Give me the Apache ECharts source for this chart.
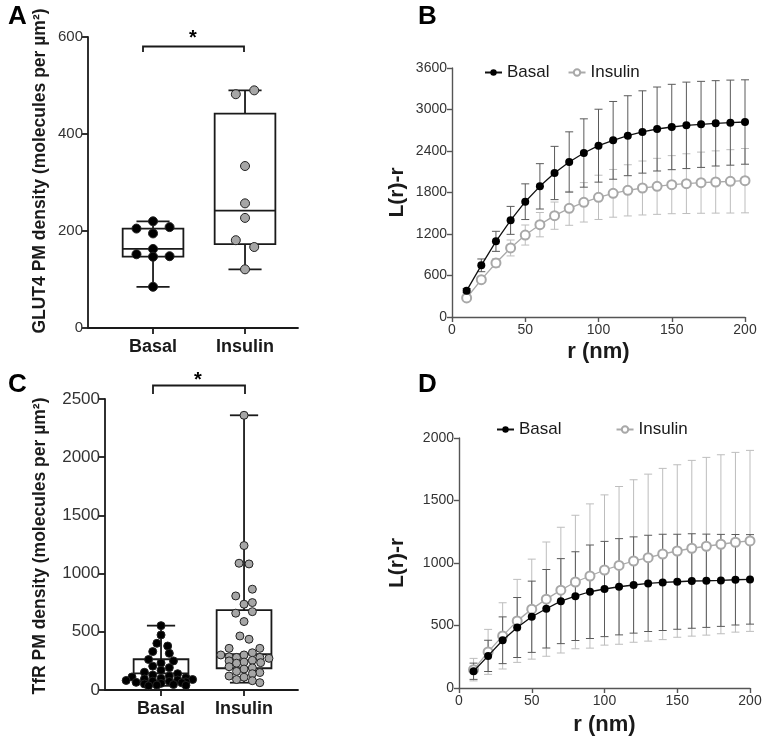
<!DOCTYPE html>
<html><head><meta charset="utf-8">
<script src="https://cdn.jsdelivr.net/npm/echarts@6/dist/echarts.min.js"></script>
<style>html,body{margin:0;padding:0;background:#fff}#c{width:767px;height:741px}</style>
</head><body><div id="c"></div>
<script>
const groups = ['Basal', 'Insulin'];
const titleA = 'GLUT4 PM density (molecules per µm²)';
const titleC = 'TfR PM density (molecules per µm²)';

// Panel A: GLUT4 PM density
const aBasalValues = [220, 208, 205, 195, 163, 152, 148, 147, 85];
const aBasalJitter = [0, 0.18, -0.18, 0, 0, -0.18, 0.18, 0, 0];
const aInsulinValues = [490, 482, 334, 257, 227, 181, 167, 121];
const aInsulinJitter = [0.1, -0.1, 0, 0, 0, -0.1, 0.1, 0];
// [min, q1, median, q3, max]
const aBasalBox = [85, 147, 163, 205, 220];
const aInsulinBox = [121, 173, 242, 442, 490];

// Panel C: TfR PM density
const cBasalValues = [553,473,401,378,330,315,262,250,232,205,192,170,152,140,128,120,112,105,100,95,90,86,82,76,74,70,66,62,57,52,47,42,40,36];
const cBasalJitter = [0,0,-0.05,0.08,-0.1,0.1,-0.15,0.15,0,-0.1,0.1,0,-0.2,0.2,-0.1,0.1,-0.35,0.3,0,-0.2,0.38,0.2,-0.42,-0.1,0.1,0.3,-0.3,0.25,0,-0.2,0.15,-0.05,0.3,-0.15];
const cInsulinValues = [2360,1241,1089,1083,866,808,751,737,673,660,588,464,436,358,358,320,301,301,285,280,280,272,250,240,255,230,235,200,190,180,160,150,140,120,110,90,80,63];
const cInsulinJitter = [0,0,-0.06,0.06,0.1,-0.1,0.1,0,0.1,-0.1,0,-0.05,0.06,-0.18,0.19,0.1,-0.28,0,-0.18,-0.09,0.19,0.3,-0.18,0,0.1,-0.09,0.2,-0.18,0.1,0,-0.09,0.19,0.1,-0.18,0,-0.09,0.1,0.19];
const cBasalBox = [36, 75, 143, 264, 553];
const cInsulinBox = [63, 187, 307, 686, 2360];

// Panels B & D: L(r)-r
const rValues = [10,20,30,40,50,60,70,80,90,100,110,120,130,140,150,160,170,180,190,200];
const bBasalMean = [381,747,1094,1397,1667,1889,2082,2241,2371,2477,2554,2621,2675,2718,2747,2771,2785,2800,2810,2819];
const bBasalSD   = [30,92,145,202,258,328,385,436,494,527,562,578,595,607,617,625,622,617,615,610];
const bInsulinMean = [275,540,781,998,1185,1335,1465,1571,1658,1730,1788,1831,1865,1889,1913,1928,1942,1952,1961,1971];
const bInsulinSD   = [20,40,60,115,145,176,197,245,285,320,345,370,390,405,420,432,442,450,458,465];
const dBasalMean = [134,257,382,484,570,634,695,735,770,792,810,824,837,845,850,856,858,861,866,869];
const dBasalSD   = [65,125,187,240,285,314,340,355,374,381,385,385,385,385,380,378,373,368,362,358];
const dInsulinMean = [147,289,417,537,631,711,783,848,896,944,981,1016,1043,1072,1096,1118,1134,1150,1166,1177];
const dInsulinSD   = [90,180,265,332,400,457,503,534,577,601,631,650,668,685,690,703,711,716,719,724];

const FONT = "'Liberation Sans', Arial, sans-serif";
const plain = v => String(v);

function boxRender(halfW, capW) {
  return function (params, api) {
    const x = api.value(0);
    const p = [1,2,3,4,5].map(i => api.coord([x, api.value(i)]));
    const cx = p[0][0];
    const hw = api.size([halfW, 0])[0];
    const cw = api.size([capW, 0])[0];
    const st = { stroke: '#1a1a1a', lineWidth: 1.8, fill: null };
    return { type: 'group', children: [
      { type: 'line', shape: { x1: cx, y1: p[0][1], x2: cx, y2: p[1][1] }, style: st },
      { type: 'line', shape: { x1: cx, y1: p[3][1], x2: cx, y2: p[4][1] }, style: st },
      { type: 'line', shape: { x1: cx - cw, y1: p[0][1], x2: cx + cw, y2: p[0][1] }, style: st },
      { type: 'line', shape: { x1: cx - cw, y1: p[4][1], x2: cx + cw, y2: p[4][1] }, style: st },
      { type: 'rect', shape: { x: cx - hw, y: p[3][1], width: 2 * hw, height: p[1][1] - p[3][1] }, style: { stroke: '#1a1a1a', lineWidth: 1.8, fill: 'rgba(255,255,255,0)' } },
      { type: 'line', shape: { x1: cx - hw, y1: p[2][1], x2: cx + hw, y2: p[2][1] }, style: st }
    ]};
  };
}
function errRender(color) {
  return function (params, api) {
    const r = api.value(0), m = api.value(1), s = api.value(2);
    const t = api.coord([r, m + s]), b = api.coord([r, m - s]);
    const cw = 4;
    const st = { stroke: color, lineWidth: 1 };
    return { type: 'group', children: [
      { type: 'line', shape: { x1: t[0], y1: t[1], x2: b[0], y2: b[1] }, style: st },
      { type: 'line', shape: { x1: t[0] - cw, y1: t[1], x2: t[0] + cw, y2: t[1] }, style: st },
      { type: 'line', shape: { x1: b[0] - cw, y1: b[1], x2: b[0] + cw, y2: b[1] }, style: st }
    ]};
  };
}
const pts = (vals, jit, g) => vals.map((v, i) => [g + jit[i], v]);
const boxData = (g, box) => [[g].concat(box)];
const triple = (m, s) => rValues.map((r, i) => [r, m[i], s[i]]);
const pairs = m => rValues.map((r, i) => [r, m[i]]);

function catX(idx, min, max, fs) {
  return { type: 'value', gridIndex: idx, min: min, max: max,
    axisLine: { lineStyle: { color: '#1a1a1a', width: 1.8 } },
    axisTick: { customValues: [1, 2], length: 6, lineStyle: { color: '#1a1a1a', width: 1.8 } },
    axisLabel: { customValues: [1, 2], formatter: v => groups[Math.round(v) - 1], fontFamily: FONT, fontWeight: 'bold', fontSize: fs, color: '#1a1a1a', margin: 10 },
    splitLine: { show: false } };
}
function valY(idx, max, interval, fs) {
  return { type: 'value', gridIndex: idx, min: 0, max: max, interval: interval,
    axisLine: { show: true, lineStyle: { color: '#1a1a1a', width: 1.8 } },
    axisTick: { show: true, length: 6, lineStyle: { color: '#1a1a1a', width: 1.8 } },
    axisLabel: { formatter: plain, fontFamily: FONT, fontSize: fs, color: '#333', margin: 5 },
    splitLine: { show: false } };
}
function rX(idx, gap) {
  return { type: 'value', gridIndex: idx, min: 0, max: 200, interval: 50,
    name: 'r (nm)', nameLocation: 'middle', nameGap: gap,
    nameTextStyle: { fontFamily: FONT, fontWeight: 'bold', fontSize: 22, color: '#1a1a1a' },
    axisLine: { lineStyle: { color: '#555', width: 1.4 } },
    axisTick: { length: 5, lineStyle: { color: '#555', width: 1.4 } },
    axisLabel: { formatter: plain, fontFamily: FONT, fontSize: 14, color: '#333', margin: 6 },
    splitLine: { show: false } };
}
function lY(idx, max, interval, gap) {
  return { type: 'value', gridIndex: idx, min: 0, max: max, interval: interval,
    name: 'L(r)-r', nameLocation: 'middle', nameGap: gap,
    nameTextStyle: { fontFamily: FONT, fontWeight: 'bold', fontSize: 21, color: '#1a1a1a' },
    axisLine: { show: true, lineStyle: { color: '#555', width: 1.4 } },
    axisTick: { show: true, length: 5, lineStyle: { color: '#555', width: 1.4 } },
    axisLabel: { formatter: plain, fontFamily: FONT, fontSize: 14, color: '#333', margin: 5 },
    splitLine: { show: false } };
}
function basalLine(xi, yi, data) {
  return { type: 'line', name: 'Basal', xAxisIndex: xi, yAxisIndex: yi, data: data, symbol: 'circle', symbolSize: 8,
    itemStyle: { color: '#000' }, lineStyle: { color: '#111', width: 1.3 }, z: 5, animation: false };
}
function insulinLine(xi, yi, data) {
  return { type: 'line', name: 'Insulin', xAxisIndex: xi, yAxisIndex: yi, data: data, symbol: 'emptyCircle', symbolSize: 9,
    itemStyle: { color: '#a8a8a8', borderColor: '#a8a8a8', borderWidth: 1.5 }, lineStyle: { color: '#aaa', width: 1.3 }, z: 4, animation: false };
}
function dots(xi, yi, data, color, size) {
  return { type: 'scatter', xAxisIndex: xi, yAxisIndex: yi, data: data, symbolSize: size,
    itemStyle: { color: color, borderColor: '#222', borderWidth: 1, opacity: 1 }, z: 6, animation: false };
}
function box(xi, yi, data, hw, cw) {
  return { type: 'custom', xAxisIndex: xi, yAxisIndex: yi, data: data, renderItem: boxRender(hw, cw), z: 3, animation: false,
    encode: { x: 0, y: [1, 2, 3, 4, 5] } };
}
function err(xi, yi, data, color) {
  return { type: 'custom', xAxisIndex: xi, yAxisIndex: yi, data: data, renderItem: errRender(color), z: 2, animation: false,
    encode: { x: 0, y: 1 } };
}
const legendStyle = { fontFamily: FONT, fontSize: 17, color: '#1a1a1a' };

const option = {
  backgroundColor: '#fff',
  animation: false,
  grid: [
    { left: 88, top: 37, width: 210, height: 291 },
    { left: 452, top: 68, width: 293, height: 249 },
    { left: 105, top: 399, width: 193, height: 291 },
    { left: 459, top: 438, width: 291, height: 250 }
  ],
  xAxis: [ catX(0, 0.293, 2.576, 18), rX(1, 24), catX(2, 0.325, 2.65, 18), rX(3, 26) ],
  yAxis: [ valY(0, 600, 200, 15), lY(1, 3600, 600, 44), valY(2, 2500, 500, 17), lY(3, 2000, 500, 51) ],
  legend: [
    { data: ['Basal', 'Insulin'], left: 479, top: 59, itemWidth: 17, itemHeight: 8, itemGap: 18, textStyle: legendStyle, selectedMode: false },
    { data: ['Basal', 'Insulin'], left: 491, top: 416, itemWidth: 17, itemHeight: 8, itemGap: 54, textStyle: legendStyle, selectedMode: false }
  ],
  series: [
    box(0, 0, boxData(1, aBasalBox), 0.33, 0.18),
    box(0, 0, boxData(2, aInsulinBox), 0.33, 0.18),
    dots(0, 0, pts(aBasalValues, aBasalJitter, 1), '#000', 9),
    dots(0, 0, pts(aInsulinValues, aInsulinJitter, 2), '#a6a6a6', 9),
    box(2, 2, boxData(1, cBasalBox), 0.33, 0.17),
    box(2, 2, boxData(2, cInsulinBox), 0.33, 0.17),
    dots(2, 2, pts(cBasalValues, cBasalJitter, 1), '#000', 8),
    dots(2, 2, pts(cInsulinValues, cInsulinJitter, 2), '#a6a6a6', 8),
    err(1, 1, triple(bInsulinMean, bInsulinSD), '#bdbdbd'),
    err(1, 1, triple(bBasalMean, bBasalSD), '#5a5a5a'),
    insulinLine(1, 1, pairs(bInsulinMean)),
    basalLine(1, 1, pairs(bBasalMean)),
    err(3, 3, triple(dInsulinMean, dInsulinSD), '#bdbdbd'),
    err(3, 3, triple(dBasalMean, dBasalSD), '#5a5a5a'),
    insulinLine(3, 3, pairs(dInsulinMean)),
    basalLine(3, 3, pairs(dBasalMean))
  ],
  graphic: [
    { type: 'text', left: 8, top: 4, style: { text: 'A', font: "bold 26px " + FONT, fill: '#000' } },
    { type: 'text', left: 418, top: 4, style: { text: 'B', font: "bold 26px " + FONT, fill: '#000' } },
    { type: 'text', left: 8, top: 372, style: { text: 'C', font: "bold 26px " + FONT, fill: '#000' } },
    { type: 'text', left: 418, top: 372, style: { text: 'D', font: "bold 26px " + FONT, fill: '#000' } },
    { type: 'text', x: 40, y: 171, rotation: Math.PI / 2, style: { text: titleA, font: "bold 17.5px " + FONT, fill: '#1a1a1a', align: 'center', verticalAlign: 'middle' } },
    { type: 'text', x: 40, y: 546, rotation: Math.PI / 2, style: { text: titleC, font: "bold 17.5px " + FONT, fill: '#1a1a1a', align: 'center', verticalAlign: 'middle' } },
    { type: 'polyline', shape: { points: [[143, 52], [143, 46.5], [244, 46.5], [244, 52]] }, style: { stroke: '#1a1a1a', lineWidth: 1.8, fill: null } },
    { type: 'text', x: 193, y: 38, style: { text: '*', font: "bold 20px " + FONT, fill: '#000', align: 'center', verticalAlign: 'middle' } },
    { type: 'polyline', shape: { points: [[153, 394], [153, 385.5], [245, 385.5], [245, 394]] }, style: { stroke: '#1a1a1a', lineWidth: 1.8, fill: null } },
    { type: 'text', x: 198, y: 380, style: { text: '*', font: "bold 20px " + FONT, fill: '#000', align: 'center', verticalAlign: 'middle' } }
  ]
};
const chart = echarts.init(document.getElementById('c'), null, { renderer: 'canvas' });
chart.setOption(option);
</script></body></html>
